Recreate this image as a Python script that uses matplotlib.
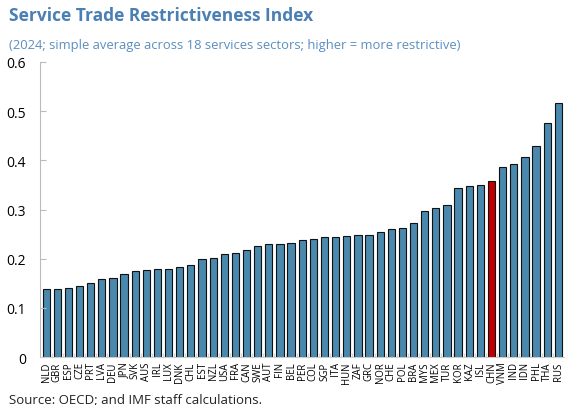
import matplotlib.pyplot as plt
import numpy as np

# Countries and STRI values
countries = ['NLD', 'GBR', 'ESP', 'CZE', 'PRT', 'LVA', 'DEU', 'JPN', 'SVK', 'AUS',
             'IRL', 'LUX', 'DNK', 'CHL', 'EST', 'NZL', 'USA', 'FRA', 'CAN', 'SWE',
             'AUT', 'FIN', 'BEL', 'PER', 'COL', 'SGP', 'ITA', 'HUN', 'ZAF', 'GRC',
             'NOR', 'CHE', 'POL', 'BRA', 'MYS', 'MEX', 'TUR', 'KOR', 'KAZ', 'ISL',
             'CHN', 'VNM', 'IND', 'IDN', 'PHL', 'THA', 'RUS']
values = [0.138, 0.139, 0.141, 0.145, 0.151, 0.159, 0.161, 0.168, 0.174, 0.178,
          0.179, 0.179, 0.183, 0.187, 0.199, 0.202, 0.210, 0.212, 0.217, 0.226,
          0.229, 0.230, 0.232, 0.239, 0.240, 0.244, 0.245, 0.247, 0.248, 0.249,
          0.254, 0.260, 0.263, 0.273, 0.297, 0.304, 0.310, 0.344, 0.347, 0.349,
          0.358, 0.387, 0.392, 0.406, 0.429, 0.475, 0.516]
highlight = 'CHN'

plt.rcParams['font.family'] = ['Open Sans', 'DejaVu Sans']

fig = plt.figure(figsize=(5.65, 4.06), dpi=100)
ax = fig.add_axes([0.0708, 0.118, 0.9292, 0.727])

x = np.arange(len(countries))
colors = ['#c00000' if c == highlight else '#4a89ad' for c in countries]
ax.bar(x, values, width=0.65, color=colors, edgecolor='#111111', linewidth=0.8)

ax.set_ylim(0, 0.6)
ax.set_xlim(-0.55, 46.6)
ax.set_yticks([0, 0.1, 0.2, 0.3, 0.4, 0.5, 0.6])
ax.set_yticklabels(['0', '0.1', '0.2', '0.3', '0.4', '0.5', '0.6'], fontsize=10)
ax.set_xticks(x)
ax.set_xticklabels(countries, rotation=90, fontsize=6.9)
ax.set_xticks(x[:-1] + 0.5, minor=True)

ax.tick_params(axis='y', direction='in', length=4, color='#bbbbbb', pad=10)
ax.tick_params(axis='x', which='major', length=0, pad=3)
ax.tick_params(axis='x', which='minor', direction='in', length=3, color='#cccccc')

for s in ['top', 'right']:
    ax.spines[s].set_visible(False)
ax.spines['left'].set_color('#bbbbbb')
ax.spines['bottom'].set_color('#cccccc')

fig.text(0.016, 0.948, 'Service Trade Restrictiveness Index', fontsize=12.5,
         fontweight='bold', color='#4a7fb3')
fig.text(0.016, 0.88, '(2024; simple average across 18 services sectors; higher = more restrictive)',
         fontsize=9.4, color='#5b8fc0')
fig.text(0.016, 0.004, 'Source: OECD; and IMF staff calculations.', fontsize=9.5, color='#222222')

fig.savefig('out.png', dpi=100)
